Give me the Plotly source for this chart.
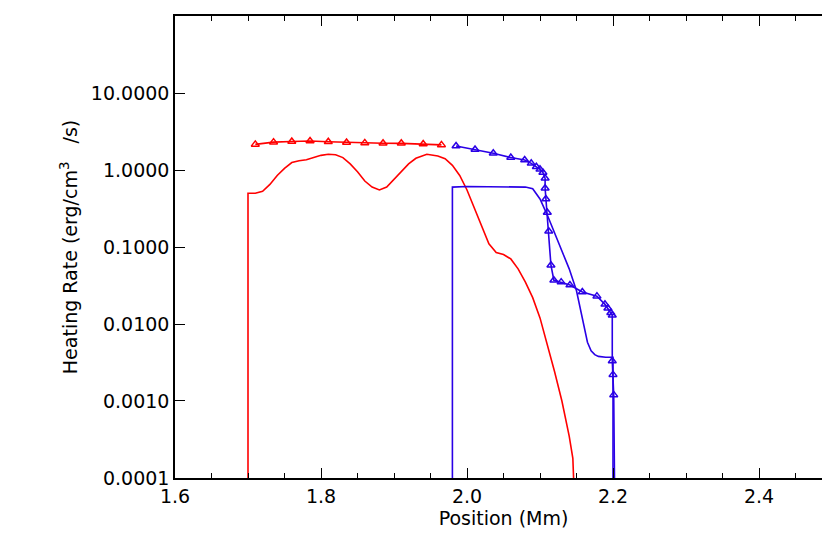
import plotly.graph_objects as go

# red smooth curve
red_x = [1.7, 1.7, 1.71, 1.72, 1.73, 1.74, 1.75, 1.76, 1.77, 1.78, 1.79, 1.8, 1.81, 1.82, 1.83, 1.84, 1.85,
         1.86, 1.87, 1.88, 1.89, 1.9, 1.91, 1.92, 1.93, 1.945, 1.96, 1.97, 1.98, 1.99, 2.0, 2.01, 2.02,
         2.03, 2.04, 2.05, 2.06, 2.07, 2.08, 2.09, 2.1, 2.11, 2.12, 2.13, 2.14, 2.145, 2.15]
red_y = [1e-5, 0.5, 0.5, 0.53, 0.65, 0.85, 1.05, 1.25, 1.32, 1.36, 1.45, 1.55, 1.6, 1.58, 1.45, 1.2, 0.95,
         0.72, 0.6, 0.55, 0.6, 0.75, 0.95, 1.2, 1.42, 1.6, 1.52, 1.4, 1.15, 0.85, 0.55, 0.32, 0.18,
         0.11, 0.085, 0.08, 0.07, 0.052, 0.035, 0.022, 0.012, 0.0055, 0.0024, 0.001, 0.00035, 0.00018, 1e-5]

# red triangle series
red_tx = [1.71, 1.735, 1.76, 1.785, 1.81, 1.835, 1.86, 1.885, 1.91, 1.94, 1.965]
red_ty = [2.15, 2.3, 2.35, 2.38, 2.33, 2.28, 2.25, 2.23, 2.22, 2.18, 2.12]

# blue smooth curve
blue_x = [1.98, 1.98, 2.0, 2.05, 2.08, 2.09, 2.1, 2.11, 2.12, 2.13, 2.14, 2.15, 2.155, 2.16, 2.165, 2.17,
          2.175, 2.18, 2.19, 2.2, 2.2]
blue_y = [1e-5, 0.6, 0.61, 0.61, 0.6, 0.57, 0.42, 0.26, 0.15, 0.09, 0.052, 0.027, 0.016, 0.009, 0.0058, 0.0045,
          0.004, 0.0038, 0.0037, 0.0037, 1e-5]

# blue triangle series
blue_tx = [1.985, 2.011, 2.036, 2.06, 2.079, 2.088, 2.095, 2.1, 2.104, 2.107, 2.107, 2.108, 2.11, 2.112,
           2.115, 2.119, 2.129, 2.141, 2.158, 2.178, 2.189, 2.193, 2.197, 2.199, 2.199, 2.2, 2.201]
blue_ty = [2.05, 1.85, 1.65, 1.45, 1.35, 1.22, 1.1, 1.02, 0.93, 0.78, 0.58, 0.42, 0.28, 0.16,
           0.058, 0.037, 0.035, 0.032, 0.026, 0.023, 0.018, 0.016, 0.014, 0.013, 0.0033, 0.0022, 0.0012]

RED = "#ff0000"
BLUE = "#2a00e6"
FONT = dict(family="DejaVu Sans", size=19, color="black")

fig = go.Figure()
fig.add_trace(go.Scatter(x=red_x, y=red_y, mode="lines", line=dict(color=RED, width=1.6)))
fig.add_trace(go.Scatter(x=red_tx, y=red_ty, mode="lines+markers", line=dict(color=RED, width=1.6),
                         marker=dict(symbol="triangle-up-open", size=7, color=RED, line=dict(width=1.5))))
fig.add_trace(go.Scatter(x=blue_x, y=blue_y, mode="lines", line=dict(color=BLUE, width=1.6)))
fig.add_trace(go.Scatter(x=blue_tx + [2.203], y=blue_ty + [1e-5], mode="lines+markers", line=dict(color=BLUE, width=1.6),
                         marker=dict(symbol="triangle-up-open", size=7, color=BLUE, line=dict(width=1.5),
                                     maxdisplayed=0)))

ax = dict(showline=True, linecolor="black", linewidth=1.5, mirror="ticks", ticks="inside",
          tickcolor="black", showgrid=False, zeroline=False, automargin=False, tickfont=FONT)
fig.update_xaxes(**ax, range=[1.6, 2.5], tickvals=[1.6, 1.8, 2.0, 2.2, 2.4], ticktext=["1.6", "1.8", "2.0", "2.2", "2.4"],
                 ticklen=10, minor=dict(ticks="inside", dtick=0.05, ticklen=5, tickcolor="black"),
                 title=dict(text="Position (Mm)", font=FONT, standoff=4))
fig.update_yaxes(**ax, type="log", range=[-4.0001, 2.0001], tickvals=[1e-4, 1e-3, 1e-2, 1e-1, 1, 10, 100],
                 ticktext=["0.0001", "0.0010", "0.0100", "0.1000", "1.0000", "10.0000", "100.0000"], ticklen=10,
                 title=dict(text="Heating Rate (erg/cm<sup>3</sup>   /s)", font=FONT, standoff=8))
fig.update_layout(width=830, height=554, plot_bgcolor="white", paper_bgcolor="white", showlegend=False,
                  margin=dict(l=167, r=6, t=8, b=84))
fig.write_html("out.html")
